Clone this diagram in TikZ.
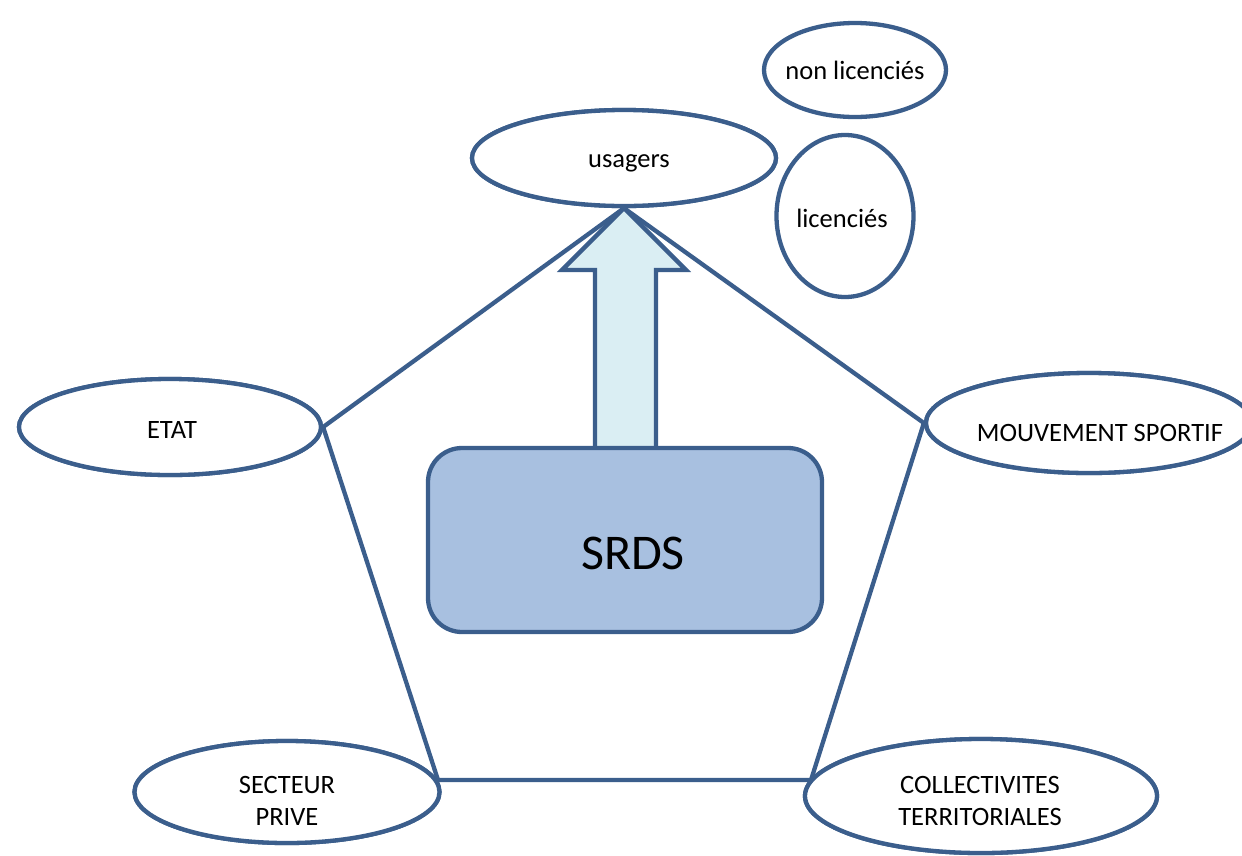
\documentclass[tikz,border=0pt]{standalone}
\usepackage{fontspec}
\setmainfont{Carlito}
\usetikzlibrary{shapes.geometric}
\definecolor{edge}{RGB}{59,94,140}
\definecolor{boxfill}{RGB}{168,192,224}
\definecolor{arrowfill}{RGB}{218,238,243}
\tikzset{
  lbl/.style={font=\fontsize{26.5}{32}\selectfont, align=center},
  ell/.style={draw=edge, line width=4.3pt, ellipse, fill=white, inner sep=0pt, lbl},
  link/.style={draw=edge, line width=4.3pt},
}
\begin{document}
\begin{tikzpicture}[x=1pt,y=-1pt]
\useasboundingbox (0,0) rectangle (1242,855);
\begin{scope}
\clip (0,0) rectangle (1242,855);
% ellipses (outlines first, for anchors)
\node[ell, minimum width=304pt, minimum height=96pt] (usagers) at (624,158) {};
\node[ell, minimum width=302pt, minimum height=96pt] (etat) at (170,427) {};
\node[ell, minimum width=326pt, minimum height=100pt] (mouv) at (1089,423) {};
\node[ell, minimum width=305pt, minimum height=102pt] (prive) at (287,792) {};
\node[ell, minimum width=352pt, minimum height=114pt] (coll) at (981,796) {};
% pentagon lines
\coordinate (bl) at (438,780);
\coordinate (br) at (811,780);
\draw[link, line join=round] (usagers.south) -- (etat.east) -- (bl) -- (br) -- (mouv.west) -- cycle;
% redraw ellipses above the lines
\node[ell, minimum width=304pt, minimum height=96pt] at (624,158) {};
\node[lbl] (tusagers) at (629,163) {usagers};
\node[ell, minimum width=182pt, minimum height=94pt] (nonlic) at (855,70) {};
\node[lbl] (tnonlic) at (855,70) {non licenciés};
\node[ell, minimum width=137pt, minimum height=162pt] (lic) at (845,216) {};
\node[lbl] (tlic) at (842,218) {licenciés};
\node[ell, minimum width=302pt, minimum height=96pt] at (170,427) {};
\node[lbl] (tetat) at (172,430) {ETAT};
\node[ell, minimum width=326pt, minimum height=100pt] at (1089,423) {};
\node[lbl] (tmouv) at (1100,433) {MOUVEMENT SPORTIF};
\node[ell, minimum width=305pt, minimum height=102pt] at (287,792) {};
\node[lbl] (tprive) at (287,801) {SECTEUR\\PRIVE};
\node[ell, minimum width=352pt, minimum height=114pt] at (981,796) {};
\node[lbl] (tcoll) at (980,801) {COLLECTIVITES\\TERRITORIALES};
% block arrow
\draw[draw=edge, line width=4.3pt, fill=arrowfill, line join=miter]
  (624,208) -- (686,270) -- (656,270) -- (656,449) -- (595,449) -- (595,270) -- (562,270) -- cycle;
% SRDS box
\node[draw=edge, line width=4.3pt, fill=boxfill, rounded corners=34pt,
  minimum width=394pt, minimum height=184pt] (srds) at (625,540) {};
\node[font=\fontsize{50}{54}\selectfont] (tsrds) at (633,553) {SRDS};
\end{scope}
\end{tikzpicture}
\end{document}
